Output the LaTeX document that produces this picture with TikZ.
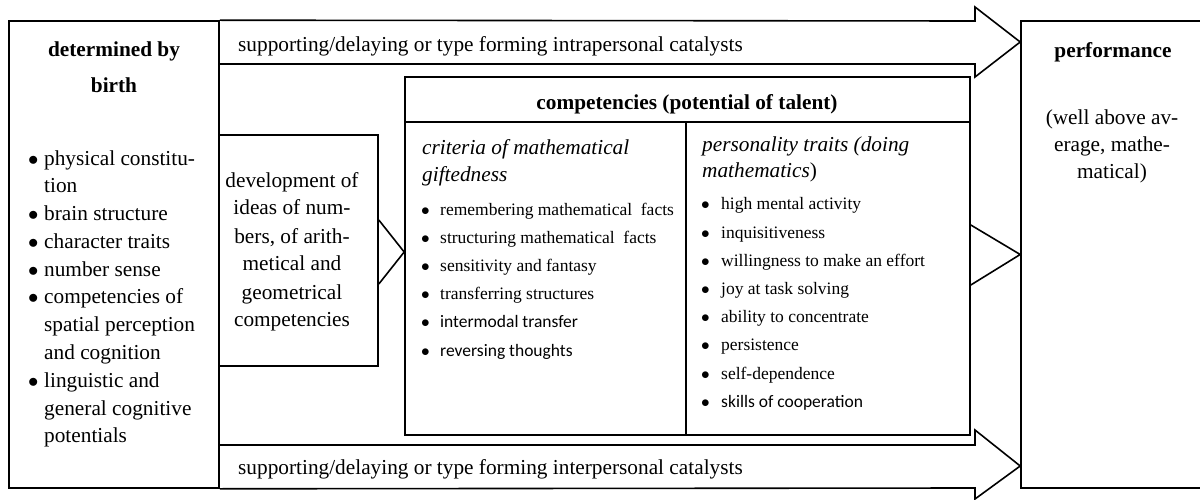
\documentclass[tikz,border=0pt]{standalone}
\usepackage{fontspec}
\setmainfont{Liberation Serif}
\newfontfamily\carlito{Carlito}
\usepackage{tikz}
\usetikzlibrary{calc}

\newcommand{\textlines}[2]{\begin{tabular}[t]{@{}#1@{}}#2\end{tabular}}
\newcommand{\itm}[1][15pt]{\makebox[#1][l]{\hspace{-1pt}$\bullet$}}

\tikzset{
    box/.style={draw,line width=1.6pt,inner sep=0pt},
    frame/.style={line width=1.6pt,line join=miter},
    txt/.style={inner sep=0pt,font=\fontsize{21.3}{28}\selectfont},
    small/.style={inner sep=0pt,font=\fontsize{17.5}{28.2}\selectfont}
}

\begin{document}
\begin{tikzpicture}[x=1pt,y=-1pt]
\useasboundingbox (0,0) rectangle (1200,500);

\node[box,minimum width=210pt,minimum height=467pt] (birth) at (114,254.5) {};
\node[box,minimum width=180pt,minimum height=467pt] (perf) at (1111,254.5) {};
\node[box,minimum width=159pt,minimum height=231pt] (dev) at (298.5,250.5) {};
\node[box,minimum width=565pt,minimum height=358pt] (comp) at (687.5,256) {};

% the two catalyst arrows
\draw[frame] (birth.north east) -- (975,21) -- (975,7) -- (perf.north west |- 0,42)
    -- (975,77) -- (975,64) -- (birth.east |- 0,64);
\draw[frame] (birth.east |- 0,445) -- (975,445) -- (975,430) -- (perf.south west |- 0,466)
    -- (975,499) -- (975,488) -- (birth.south east);

% arrow heads into the competencies and performance
\draw[frame] (dev.east |- 0,220) -- (comp.west |- 0,252) -- (dev.east |- 0,284);
\draw[frame] (comp.east |- 0,225) -- (perf.west) -- (comp.east |- 0,285);

% header and column rules
\coordinate (colsplit) at (686,122);
\draw[frame] (comp.west |- colsplit) -- (comp.east |- colsplit);
\draw[frame] (colsplit) -- (colsplit |- comp.south);

\node[txt,anchor=base] (birthhead) at (114,57) {\textlines{c}{\textbf{determined by}\\[8pt]\textbf{birth}}};
\node[txt,anchor=base west,font=\fontsize{21.3}{27.8}\selectfont] (birthlist) at (29,165) {\textlines{l}{
    \itm physical constitu-\\
    \hspace*{15pt}tion\\
    \itm brain structure\\
    \itm character traits\\
    \itm number sense\\
    \itm competencies of\\
    \hspace*{15pt}spatial perception\\
    \hspace*{15pt}and cognition\\
    \itm linguistic and\\
    \hspace*{15pt}general cognitive\\
    \hspace*{15pt}potentials}};

\node[txt,anchor=base] (devtext) at (292,187) {\textlines{c}{development of\\ideas of num-\\bers, of arith-\\metical and\\geometrical\\competencies}};

\node[txt,anchor=base west] (intra) at (238,52) {supporting/delaying or type forming intrapersonal catalysts};
\node[txt,anchor=base west] (inter) at (238,474) {supporting/delaying or type forming interpersonal catalysts};

\node[txt,anchor=base] (comphead) at (687,110) {\textbf{competencies (potential of talent)}};

\node[txt,anchor=base west,font=\fontsize{21.3}{27}\selectfont] (crithead) at (422,155) {\textlines{l}{\textit{criteria of mathematical}\\\textit{giftedness}}};
\node[small,anchor=base west] (critlist) at (422,215) {\textlines{l}{
    \itm[18pt]remembering mathematical\ \ facts\\
    \itm[18pt]structuring mathematical\ \ facts\\
    \itm[18pt]sensitivity and fantasy\\
    \itm[18pt]transferring structures\\
    \itm[18pt]{\carlito intermodal transfer}\\
    \itm[18pt]{\carlito reversing thoughts}}};

\node[txt,anchor=base west,font=\fontsize{21.3}{26}\selectfont] (pershead) at (702,152) {\textlines{l}{\textit{personality traits (doing}\\\textit{mathematics})}};
\node[small,anchor=base west] (perslist) at (702,210) {\textlines{l}{
    \itm[19pt]high mental activity\\
    \itm[19pt]inquisitiveness\\
    \itm[19pt]willingness to make an effort\\
    \itm[19pt]joy at task solving\\
    \itm[19pt]ability to concentrate\\
    \itm[19pt]persistence\\
    \itm[19pt]self-dependence\\
    \itm[19pt]{\carlito skills of cooperation}}};

\node[txt,anchor=base] (perfhead) at (1113,58) {\textbf{performance}};
\node[txt,anchor=base,font=\fontsize{21.3}{27}\selectfont] (perftext) at (1112,125) {\textlines{c}{(well above av-\\erage, mathe-\\matical)}};

\end{tikzpicture}
\end{document}
